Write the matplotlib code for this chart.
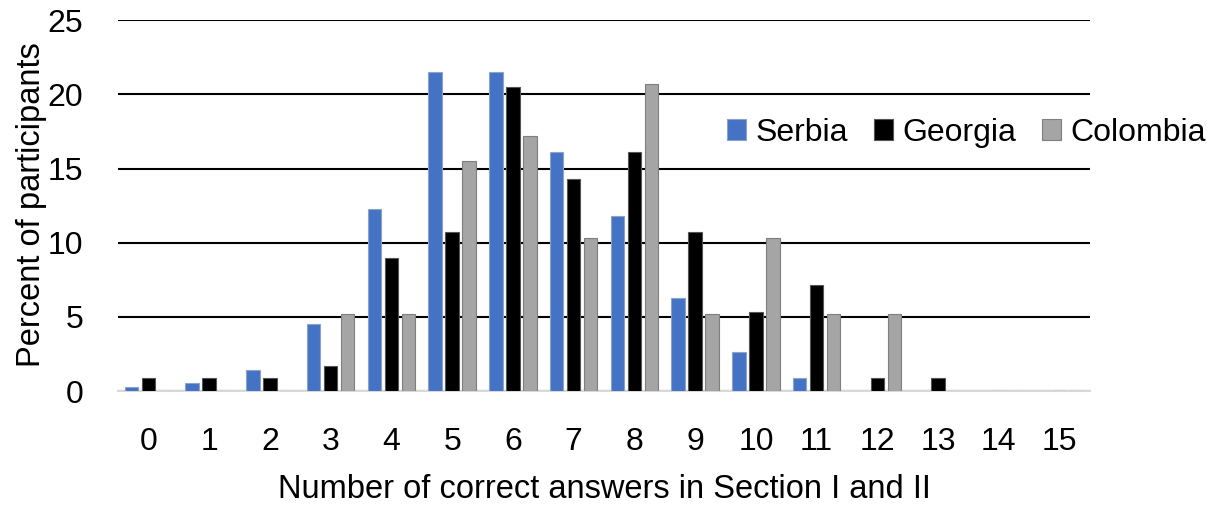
import matplotlib.pyplot as plt
import numpy as np

plt.rcParams['font.family'] = ['Liberation Sans', 'DejaVu Sans']

answers = list(range(16))
serbia = [0.3, 0.55, 1.4, 4.55, 12.3, 21.5, 21.5, 16.1, 11.8, 6.3, 2.6, 0.85, 0, 0, 0, 0]
georgia = [0.86, 0.86, 0.86, 1.71, 8.97, 10.7, 20.5, 14.3, 16.1, 10.7, 5.35, 7.15, 0.86, 0.86, 0, 0]
colombia = [0, 0, 0, 5.17, 5.17, 15.5, 17.2, 10.35, 20.7, 5.17, 10.35, 5.17, 5.17, 0, 0, 0]

fig = plt.figure(figsize=(12.22, 5.05), dpi=100)
ax = fig.add_axes([0.0966, 0.2257, 0.7954, 0.7343])

x = np.arange(len(answers))
w = 0.22
off = 0.28
ax.bar(x - off, serbia, w, color='#4472c4', edgecolor='#8ea3c8', linewidth=0.8, label='Serbia', zorder=3)
ax.bar(x, georgia, w, color='black', edgecolor='#555555', linewidth=0.8, label='Georgia', zorder=3)
ax.bar(x + off, colombia, w, color='#a5a5a5', edgecolor='#7f7f7f', linewidth=0.8, label='Colombia', zorder=3)

ax.set_xlim(-0.5, 15.5)
ax.set_ylim(0, 25)
ax.set_yticks(range(0, 26, 5))
ax.set_xticks(x)
ax.set_xticklabels([str(a) for a in answers])
ax.yaxis.grid(True, color='black', linewidth=1.5, zorder=0)
ax.set_axisbelow(True)
for s in ['top', 'right', 'left']:
    ax.spines[s].set_visible(False)
ax.spines['bottom'].set_color('#d9d9d9')
ax.spines['bottom'].set_linewidth(1.5)
ax.tick_params(axis='both', length=0, labelsize=23)
ax.tick_params(axis='y', pad=25)
ax.tick_params(axis='x', pad=26)

ax.set_xlabel('Number of correct answers in Section I and II', fontsize=23.5, labelpad=12)
fig.text(0.026, 0.594, 'Percent of participants', rotation=90, fontsize=23.5, ha='center', va='center')

fig.legend(loc='center', bbox_to_anchor=(0.791, 0.737), ncol=3, frameon=False, fontsize=23,
           handlelength=0.6, handleheight=0.6, handletextpad=0.3, columnspacing=0.8)

fig.savefig('out.png', dpi=100)
